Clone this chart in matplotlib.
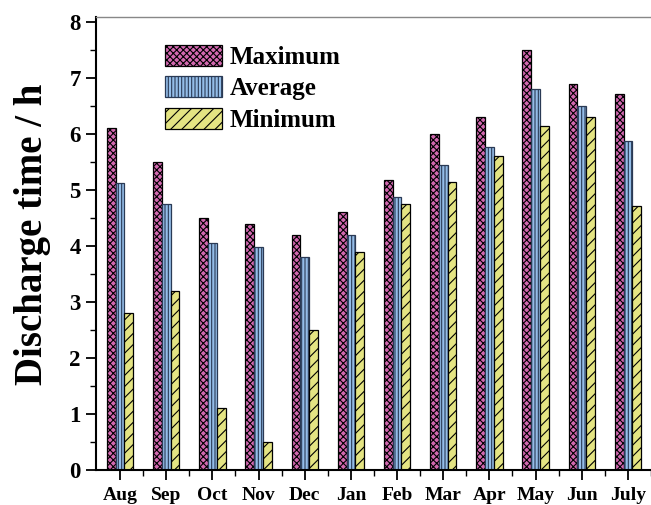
import matplotlib.pyplot as plt
import numpy as np

months = ["Aug", "Sep", "Oct", "Nov", "Dec", "Jan", "Feb", "Mar", "Apr", "May", "Jun", "July"]
maximum = [6.1, 5.5, 4.5, 4.4, 4.2, 4.6, 5.18, 6.0, 6.3, 7.5, 6.9, 6.72]
average = [5.12, 4.75, 4.05, 3.98, 3.8, 4.2, 4.87, 5.45, 5.76, 6.8, 6.5, 5.88]
minimum = [2.8, 3.2, 1.1, 0.5, 2.5, 3.9, 4.75, 5.15, 5.6, 6.15, 6.3, 4.72]

plt.rcParams['font.family'] = ['Liberation Serif', 'DejaVu Serif']
plt.rcParams['font.weight'] = 'bold'
plt.rcParams['hatch.linewidth'] = 0.8

fig = plt.figure(figsize=(6.51, 5.05), dpi=100)
ax = fig.add_axes([0.1475, 0.0693, 0.8525, 0.8970])

x = np.arange(len(months))
w = 0.19
ax.bar(x - w, maximum, w, color='#d368b0', edgecolor='black', hatch='xxxxx', linewidth=0.9, label='Maximum')
ax.bar(x, average, w, color='#94bde8', edgecolor='#2a3a55', hatch='|||||', linewidth=0.9, label='Average')
ax.bar(x + w, minimum, w, color='#e4e483', edgecolor='black', hatch='///', linewidth=0.9, label='Minimum')

ax.set_xlim(-0.52, 11.47)
ax.set_ylim(0, 8.09)
ax.set_xticks(x)
ax.set_xticklabels(months, fontsize=14, fontweight='bold')
ax.set_xticks(x + 0.5, minor=True)
ax.set_yticks(range(0, 9))
ax.set_yticklabels([str(v) for v in range(0, 9)], fontsize=16.5, fontweight='bold')
ax.set_yticks(np.arange(0.5, 8, 1), minor=True)
ax.tick_params(axis='both', which='major', direction='out', length=7, width=1.3)
ax.tick_params(axis='both', which='minor', direction='out', length=4, width=1.0)
ax.tick_params(axis='x', which='major', pad=5)
ax.tick_params(axis='y', which='major', pad=4)

ax.set_ylabel("Discharge time / h", fontsize=28, fontweight='bold')
ax.yaxis.set_label_coords(-0.081, 0.52)

for side in ['left', 'bottom']:
    ax.spines[side].set_linewidth(1.5)
ax.spines['top'].set_color('#888888')
ax.spines['top'].set_linewidth(1.0)
ax.spines['right'].set_visible(False)

ax.legend(loc='upper left', bbox_to_anchor=(0.083, 0.988), frameon=False,
          prop={'family': 'Liberation Serif', 'weight': 'bold', 'size': 18},
          handlelength=2.3, handleheight=0.9, labelspacing=0.3, handletextpad=0.3,
          borderpad=0.4)

fig.savefig("out.png", dpi=100)
